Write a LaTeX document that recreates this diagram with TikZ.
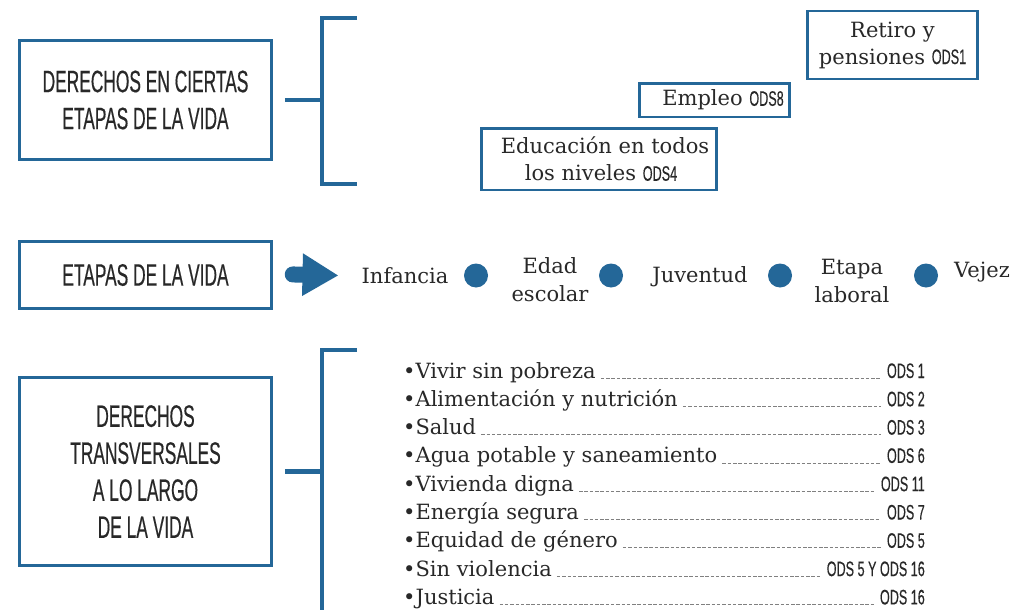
\documentclass[tikz,border=0pt]{standalone}
\usepackage{fontspec}
\setmainfont{DejaVu Serif}
\newfontfamily\capsfont[FakeStretch=0.56, FakeBold=0.4]{Liberation Sans}
\newfontfamily\odsfont[FakeStretch=0.6, FakeBold=0.3]{Liberation Sans}
\usetikzlibrary{arrows.meta, positioning, shapes.geometric}

\definecolor{azul}{RGB}{36,103,152}
\definecolor{tinta}{RGB}{40,40,40}

\newcommand{\ods}[1]{{\odsfont\fontsize{21}{21}\selectfont #1}}

\begin{document}
\begin{tikzpicture}[x=1pt, y=-1pt,
    every node/.style={text=tinta},
    titulo/.style={draw=azul, line width=2.5pt, minimum width=252,
        align=center, font=\capsfont\fontsize{31}{37}\selectfont},
    recuadro/.style={draw=azul, line width=2.5pt, align=center,
        inner sep=0pt, font=\fontsize{21}{27}\selectfont},
    etapa/.style={align=center, inner sep=0pt, font=\fontsize{21}{28}\selectfont},
    punto/.style={circle, fill=azul, minimum size=24, inner sep=0pt},
    llave/.style={draw=azul, line width=4.5pt},
    derecho/.style={anchor=base west, inner sep=0pt, font=\fontsize{21}{21}\selectfont},
    codigo/.style={anchor=base east, inner sep=0pt, font=\odsfont\fontsize{21}{21}\selectfont},
    guia/.style={draw=black!50, line width=0.8pt, dash pattern=on 3.5pt off 1.8pt}
    ]
\clip (0,0) rectangle (1014,610);

% derechos en ciertas etapas
\node[titulo, minimum height=119] (ciertas) at (145.5,100)
    {DERECHOS EN CIERTAS\\ETAPAS DE LA VIDA};
\coordinate (llave1) at (322,100);
\draw[llave] (ciertas.east) ++(12,0) -- (llave1);
\draw[llave] (357,18) -| (322,184) -- (357,184);

\node[recuadro, minimum width=170, minimum height=68] (retiro) at (892.5,45)
    {Retiro y\\pensiones \ods{ODS1}};
\node[recuadro, minimum width=150, minimum height=33.5] (empleo) at (714.5,100)
    {\hspace*{17pt}Empleo \ods{ODS8}};
\node[recuadro, minimum width=235, minimum height=61.5] (educacion) at (599,159)
    {\hspace*{12pt}Educación en todos\\\hspace*{4pt}los niveles \ods{ODS4}};

% etapas de la vida
\node[titulo, minimum height=67] (etapas) at (145.5,275) {ETAPAS DE LA VIDA};
\node[etapa] (infancia) at (405,276) {Infancia};
\node[punto] (p1) at (476,275.5) {};
\node[etapa] (escolar) at (550,280) {Edad\\escolar};
\node[punto] (p2) at (611,275.5) {};
\node[etapa] (juventud) at (700,277) {Juventud};
\node[punto] (p3) at (780,275.5) {};
\node[etapa] (laboral) at (852,281) {Etapa\\laboral};
\node[punto] (p4) at (926,275.5) {};
\node[etapa] (vejez) at (982,272) {Vejez};
\draw[azul, line width=16pt, line cap=round, -{Triangle[length=36pt, width=40pt]},
    shorten <=20pt, shorten >=23pt] ([yshift=1pt]etapas.east) -- (infancia.west |- 0,276);

% derechos transversales
\node[titulo, minimum height=188] (transversales) at (145.5,471.5)
    {DERECHOS\\TRANSVERSALES\\A LO LARGO\\DE LA VIDA};
\coordinate (llave3) at (322,471.5);
\draw[llave] (transversales.east) ++(12,0) -- (llave3);
\draw[llave] (357,350) -| (322,640);

\foreach \texto/\num [count=\i] in {
    Vivir sin pobreza/ODS 1,
    Alimentación y nutrición/ODS 2,
    Salud/ODS 3,
    Agua potable y saneamiento/ODS 6,
    Vivienda digna/ODS 11,
    Energía segura/ODS 7,
    Equidad de género/ODS 5,
    Sin violencia/ODS 5 Y ODS 16,
    Justicia/ODS 16}{
  \node[derecho] (d\i) at (403,{349.7+28.3*\i}) {•\texto};
  \node[codigo] (c\i) at (925,{349.7+28.3*\i}) {\num};
  \draw[guia] ([xshift=5pt]d\i.base east) -- ([xshift=-6pt]c\i.base west);
}
\end{tikzpicture}
\end{document}
